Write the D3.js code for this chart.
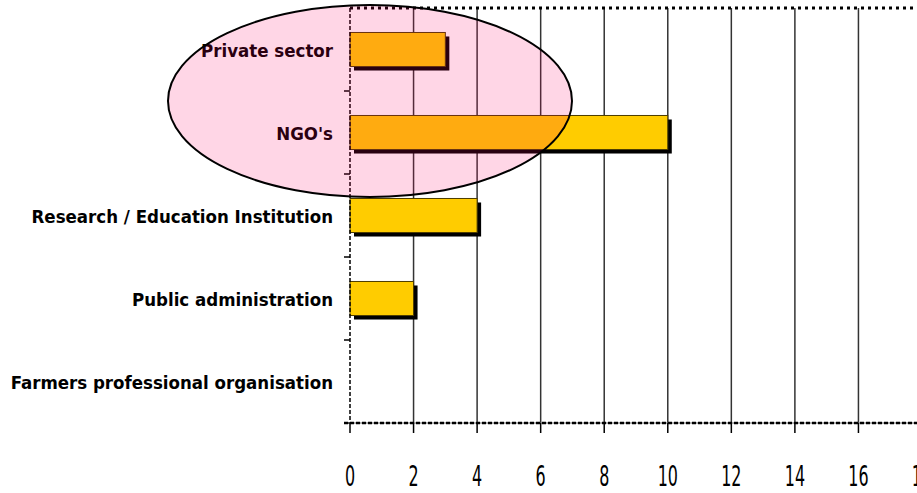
<!DOCTYPE html>
<html>
<head>
<meta charset="utf-8">
<script src="https://cdn.jsdelivr.net/npm/d3@7"></script>
<style>
  body { margin: 0; background: #fff; }
  svg { display: block; }
</style>
</head>
<body>
<div id="chart"></div>
<script>
// categories, top to bottom
var categories = ["Private sector", "NGO's", "Research / Education Institution", "Public administration", "Farmers professional organisation"];
var values = [3, 10, 4, 2, 0];
var tickValues = [0, 2, 4, 6, 8, 10, 12, 14, 16, 18];

var width = 917, height = 493;
var svg = d3.select("#chart").append("svg")
  .attr("width", width)
  .attr("height", height);

var plotTop = 8, plotBottom = 423, plotLeft = 350;

var xScale = d3.scaleLinear().domain([0, 18]).range([plotLeft, 922]);
var yScale = d3.scaleBand()
  .domain(categories)
  .range([plotTop, plotBottom])
  .paddingInner(0.59)
  .paddingOuter(0.295);

var step = yScale.step();
var bandTop = function(i) { return plotTop + i * step; };

// vertical grid lines
svg.append("g").selectAll("line")
  .data(tickValues.filter(function(d) { return d > 0; }))
  .enter().append("line")
  .attr("x1", function(d) { return xScale(d); })
  .attr("x2", function(d) { return xScale(d); })
  .attr("y1", plotTop)
  .attr("y2", plotBottom)
  .attr("stroke", "#333")
  .attr("stroke-width", 1.5);

// top dotted border
svg.append("line")
  .attr("x1", plotLeft).attr("x2", width)
  .attr("y1", plotTop).attr("y2", plotTop)
  .attr("stroke", "#000")
  .attr("stroke-width", 3)
  .attr("stroke-dasharray", "3,4");

// bars: shadow then bar
var bars = svg.append("g").selectAll("g")
  .data(categories.map(function(c, i) { return { name: c, value: values[i] }; }).filter(function(d) { return d.value > 0; }))
  .enter().append("g");

bars.append("rect")
  .attr("x", xScale(0) + 4)
  .attr("y", function(d) { return yScale(d.name) + 4; })
  .attr("width", function(d) { return xScale(d.value) - xScale(0); })
  .attr("height", yScale.bandwidth())
  .attr("fill", "#000");

bars.append("rect")
  .attr("x", xScale(0))
  .attr("y", function(d) { return yScale(d.name); })
  .attr("width", function(d) { return xScale(d.value) - xScale(0); })
  .attr("height", yScale.bandwidth())
  .attr("fill", "#ffcc00")
  .attr("stroke", "#4d3d00")
  .attr("stroke-width", 1);

// y axis (dashed) and its ticks
svg.append("line")
  .attr("x1", plotLeft).attr("x2", plotLeft)
  .attr("y1", plotTop).attr("y2", plotBottom)
  .attr("stroke", "#000")
  .attr("stroke-width", 1.5)
  .attr("stroke-dasharray", "4,2");

svg.append("g").selectAll("line")
  .data(d3.range(1, categories.length + 1))
  .enter().append("line")
  .attr("x1", plotLeft - 6).attr("x2", plotLeft)
  .attr("y1", function(i) { return bandTop(i); })
  .attr("y2", function(i) { return bandTop(i); })
  .attr("stroke", "#000")
  .attr("stroke-width", 1.5);

// x axis baseline
svg.append("line")
  .attr("x1", plotLeft - 6).attr("x2", width)
  .attr("y1", plotBottom).attr("y2", plotBottom)
  .attr("stroke", "#666")
  .attr("stroke-width", 1);
svg.append("line")
  .attr("x1", plotLeft - 6).attr("x2", width)
  .attr("y1", plotBottom).attr("y2", plotBottom)
  .attr("stroke", "#000")
  .attr("stroke-width", 2.5)
  .attr("stroke-dasharray", "4,2");

// x ticks + labels
var xt = svg.append("g").selectAll("g")
  .data(tickValues)
  .enter().append("g")
  .attr("transform", function(d) { return "translate(" + xScale(d) + ",0)"; });

xt.append("line")
  .attr("y1", plotBottom).attr("y2", plotBottom + 10)
  .attr("stroke", "#000")
  .attr("stroke-width", 1.5);

xt.append("text")
  .attr("transform", "translate(0,486) scale(0.55,1)")
  .attr("text-anchor", "middle")
  .attr("font-family", "'DejaVu Sans', sans-serif")
  .attr("font-size", 29)
  .attr("fill", "#000")
  .text(function(d) { return d; });

// category labels
svg.append("g").selectAll("text")
  .data(categories)
  .enter().append("text")
  .attr("x", 333)
  .attr("y", function(d) { return yScale(d) + yScale.bandwidth() / 2 + 7; })
  .attr("text-anchor", "end")
  .attr("font-family", "'DejaVu Sans Condensed', 'DejaVu Sans', sans-serif")
  .attr("font-weight", "bold")
  .attr("font-size", 18.5)
  .attr("fill", "#000")
  .text(function(d) { return d; });

// highlight ellipse
svg.append("ellipse")
  .attr("cx", 370)
  .attr("cy", 101)
  .attr("rx", 202)
  .attr("ry", 96)
  .attr("fill", "rgba(255,0,100,0.16)")
  .attr("stroke", "#000")
  .attr("stroke-width", 2);
</script>
</body>
</html>
